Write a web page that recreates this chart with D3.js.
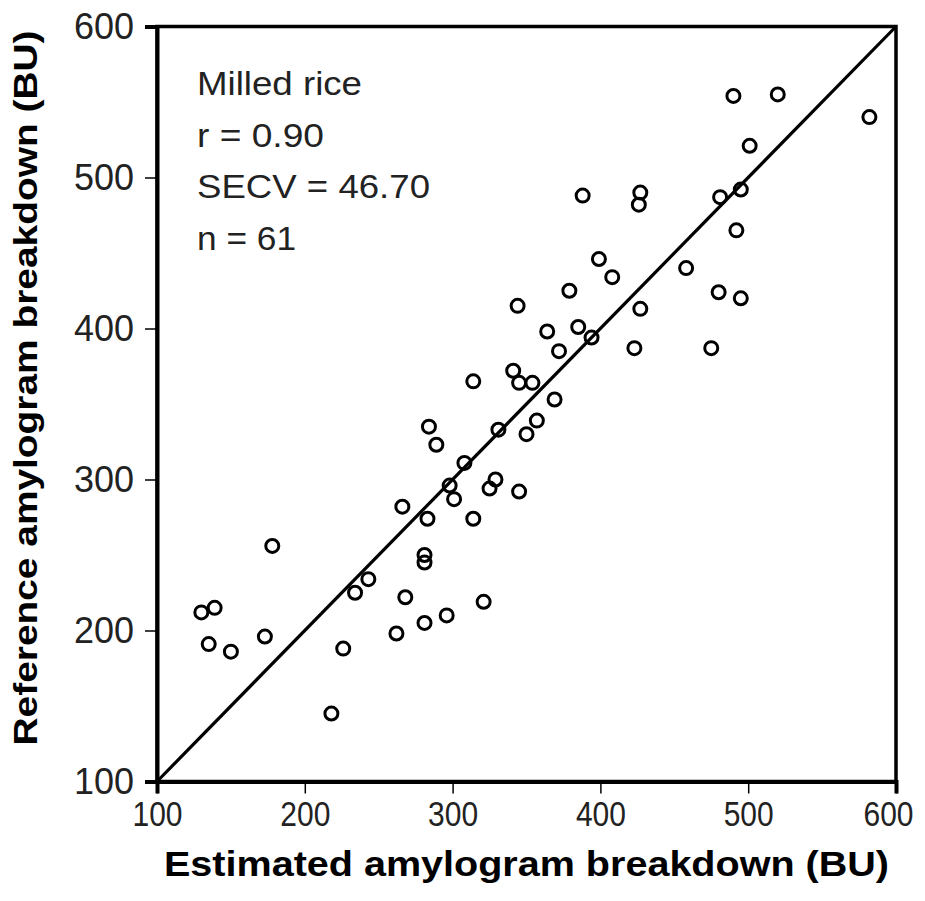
<!DOCTYPE html>
<html>
<head>
<meta charset="utf-8">
<script src="https://cdn.jsdelivr.net/npm/d3@7/dist/d3.min.js"></script>
<style>
  html, body { margin: 0; padding: 0; background: #fff; }
  svg { display: block; }
</style>
</head>
<body>
<svg id="chart" width="925" height="901"></svg>
<script>
// Estimated amylogram breakdown (x) vs reference amylogram breakdown (y), BU
const estimated = [130, 139, 135, 150, 173, 178, 218, 226, 234, 243,
                   281, 281, 268, 321, 296, 281, 262, 344, 364, 385,
                   394, 372, 341, 345, 354, 314, 369, 357, 350, 331,
                   284, 289, 308, 298, 301, 329, 325, 345, 266, 283,
                   314, 388, 399, 408, 379, 490, 520, 582, 501, 427,
                   426, 495, 481, 492, 458, 480, 495, 427, 423, 475];
const reference = [212, 215, 191, 186, 196, 256, 145, 188, 225, 234,
                   250, 245, 222, 219, 210, 205, 198, 415, 398, 401,
                   394, 385, 372, 364, 364, 365, 353, 339, 330, 333,
                   335, 323, 311, 296, 287, 300, 294, 292, 282, 274,
                   274, 488, 446, 434, 425, 554, 555, 540, 521, 490,
                   482, 492, 487, 465, 440, 424, 420, 413, 387, 387];
const xTicks = [100, 200, 300, 400, 500, 600];
const yTicks = [100, 200, 300, 400, 500, 600];
const axisDomain = [100, 600];
const annotations = ["Milled rice", "r = 0.90", "SECV = 46.70", "n = 61"];
const xTitle = "Estimated amylogram breakdown (BU)";
const yTitle = "Reference amylogram breakdown (BU)";

const svg = d3.select("#chart");
const pL = 157, pR = 896, pT = 26.5, pB = 781.5;

const x = d3.scaleLinear().domain(axisDomain).range([pL, pR]);
const y = d3.scaleLinear().domain(axisDomain).range([pB, pT]);

const fontFam = "'Liberation Sans', Arial, sans-serif";

// Frame
svg.append("rect")
  .attr("x", pL).attr("y", pT)
  .attr("width", pR - pL).attr("height", pB - pT)
  .attr("fill", "none").attr("stroke", "#000").attr("stroke-width", 3.5);

// 1:1 line
svg.append("line")
  .attr("x1", x(axisDomain[0])).attr("y1", y(axisDomain[0]))
  .attr("x2", x(axisDomain[1])).attr("y2", y(axisDomain[1]))
  .attr("stroke", "#000").attr("stroke-width", 3.2);

// Axes
const xAxis = svg.append("g")
  .attr("transform", `translate(0,${pB})`)
  .call(d3.axisBottom(x).tickValues(xTicks).tickSize(12).tickPadding(8).tickFormat(d3.format("d")));
const yAxis = svg.append("g")
  .attr("transform", `translate(${pL},0)`)
  .call(d3.axisLeft(y).tickValues(yTicks).tickSize(12).tickPadding(11).tickFormat(d3.format("d")));

[xAxis, yAxis].forEach(g => {
  g.select(".domain").attr("stroke", "#000").attr("stroke-width", 4);
  g.selectAll(".tick line").attr("stroke", "#000").attr("stroke-width", 1.5);
  g.selectAll(".tick text")
    .attr("fill", "#222")
    .attr("lengthAdjust", "spacingAndGlyphs")
    .style("font-family", fontFam)
    .style("font-size", "36px");
});
xAxis.selectAll(".tick text").attr("textLength", 50).style("font-size", "35px");
xAxis.selectAll(".tick text").filter(d => d === xTicks[xTicks.length - 1]).attr("dx", -8);
yAxis.selectAll(".tick text").attr("textLength", 60);

// Points
svg.append("g").selectAll("circle")
  .data(estimated.map((d, i) => [d, reference[i]]))
  .join("circle")
  .attr("cx", d => x(d[0]))
  .attr("cy", d => y(d[1]))
  .attr("r", 6.5)
  .attr("fill", "none")
  .attr("stroke", "#000")
  .attr("stroke-width", 3);

// Annotation
const annLengths = [165, 127, 233, 99];
svg.append("g").selectAll("text")
  .data(annotations)
  .join("text")
  .attr("x", 197)
  .attr("y", (d, i) => 95 + i * 51.7)
  .attr("textLength", (d, i) => annLengths[i])
  .attr("lengthAdjust", "spacingAndGlyphs")
  .attr("fill", "#222")
  .style("font-family", fontFam)
  .style("font-size", "34px")
  .text(d => d);

// Axis titles
svg.append("text")
  .attr("x", (pL + pR) / 2)
  .attr("y", 876)
  .attr("text-anchor", "middle")
  .attr("textLength", 725)
  .attr("lengthAdjust", "spacingAndGlyphs")
  .style("font-family", fontFam)
  .style("font-weight", "bold")
  .style("font-size", "35px")
  .text(xTitle);

svg.append("text")
  .attr("transform", `translate(37,388) rotate(-90)`)
  .attr("text-anchor", "middle")
  .attr("textLength", 715)
  .attr("lengthAdjust", "spacingAndGlyphs")
  .style("font-family", fontFam)
  .style("font-weight", "bold")
  .style("font-size", "34px")
  .text(yTitle);
</script>
</body>
</html>
